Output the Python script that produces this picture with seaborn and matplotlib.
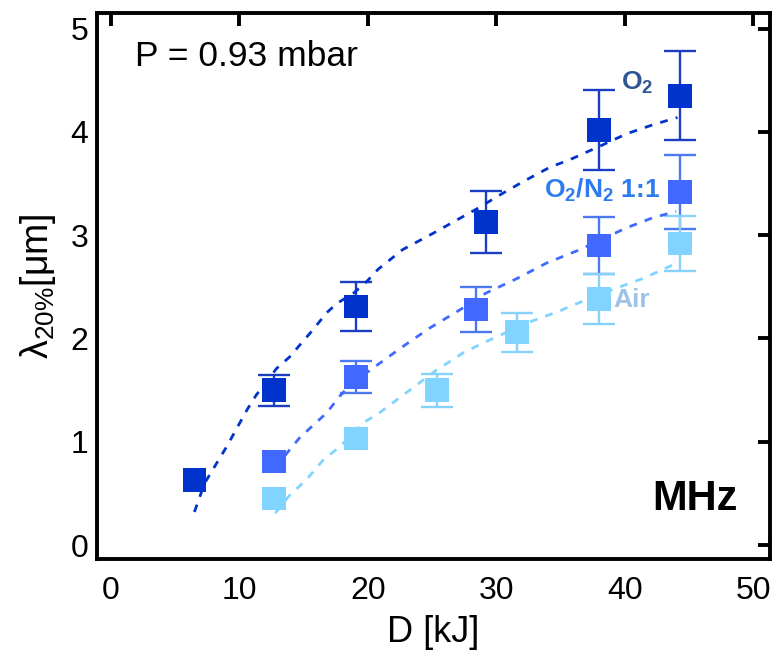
import numpy as np
import pandas as pd
import matplotlib
matplotlib.use("Agg")
import matplotlib.pyplot as plt
import seaborn as sns

# ---- data ----
o2_x = [6.5, 12.7, 19.1, 29.2, 38.0, 44.3]
o2_y = [0.63, 1.50, 2.31, 3.13, 4.02, 4.35]
o2_err = [0.0, 0.15, 0.24, 0.30, 0.39, 0.43]

mix_x = [12.7, 19.1, 28.4, 38.0, 44.3]
mix_y = [0.81, 1.63, 2.28, 2.90, 3.42]
mix_err = [0.0, 0.155, 0.22, 0.28, 0.36]

air_x = [12.7, 19.1, 25.4, 31.6, 38.0, 44.3]
air_y = [0.45, 1.03, 1.50, 2.06, 2.38, 2.92]
air_err = [0.0, 0.0, 0.16, 0.19, 0.24, 0.27]

o2_fit_x = [6.5, 7.3, 9.0, 10.6, 11.3, 12.9, 13.9, 15.7, 16.8, 17.6, 18.9, 19.9, 20.8,
            22.7, 25.1, 27.4, 28.7, 30.0, 32.1, 34.2, 35.7, 38.2, 40.1, 42.2, 44.1]
o2_fit_y = [0.32, 0.60, 0.95, 1.31, 1.45, 1.71, 1.82, 2.08, 2.25, 2.34, 2.44, 2.55, 2.67,
            2.86, 3.02, 3.18, 3.27, 3.37, 3.52, 3.66, 3.73, 3.87, 3.98, 4.07, 4.14]

mix_fit_x = [12.8, 13.7, 14.7, 16.8, 17.8, 18.8, 20.7, 22.7, 24.8, 27.2, 29.2, 31.6,
             33.9, 35.5, 36.5, 40.1, 42.2, 44.0]
mix_fit_y = [0.74, 0.89, 1.04, 1.28, 1.44, 1.57, 1.74, 1.92, 2.10, 2.28, 2.44, 2.58,
             2.73, 2.81, 2.86, 3.07, 3.17, 3.23]

air_fit_x = [12.8, 13.9, 15.2, 16.5, 17.8, 19.6, 20.9, 25.3, 27.4, 29.2, 32.6, 35.0,
             35.7, 39.4, 41.4, 43.7]
air_fit_y = [0.31, 0.48, 0.63, 0.82, 0.95, 1.18, 1.28, 1.69, 1.86, 1.97, 2.16, 2.27,
             2.31, 2.49, 2.58, 2.71]

series = ["O2", "O2/N2 1:1", "Air"]
marker_colors = ["#0033CC", "#4169FF", "#80D4FF"]
err_colors = ["#1A3DC4", "#4C78F2", "#86D2FA"]
label_texts = [r"O$_\mathbf{2}$", r"O$_\mathbf{2}$/N$_\mathbf{2}$ 1:1", "Air"]
label_colors = ["#2F5597", "#2E7BF0", "#9DC3E6"]
label_pos = [(39.7, 4.47), (33.7, 3.43), (39.1, 2.37)]

pts = pd.concat([
    pd.DataFrame({"D": o2_x, "lam": o2_y, "err": o2_err, "gas": series[0]}),
    pd.DataFrame({"D": mix_x, "lam": mix_y, "err": mix_err, "gas": series[1]}),
    pd.DataFrame({"D": air_x, "lam": air_y, "err": air_err, "gas": series[2]}),
], ignore_index=True)
fits = pd.concat([
    pd.DataFrame({"D": o2_fit_x, "lam": o2_fit_y, "gas": series[0]}),
    pd.DataFrame({"D": mix_fit_x, "lam": mix_fit_y, "gas": series[1]}),
    pd.DataFrame({"D": air_fit_x, "lam": air_fit_y, "gas": series[2]}),
], ignore_index=True)

sns.set_theme(style="white")
plt.rcParams["font.family"] = ["Liberation Sans", "DejaVu Sans"]
plt.rcParams["mathtext.fontset"] = "custom"
plt.rcParams["mathtext.rm"] = "Liberation Sans"
plt.rcParams["mathtext.it"] = "Liberation Sans:italic"
plt.rcParams["mathtext.bf"] = "Liberation Sans:bold"
plt.rcParams["axes.labelcolor"] = "black"
plt.rcParams["text.color"] = "black"

fig = plt.figure(figsize=(7.77, 6.58), dpi=100)
ax = fig.add_axes([0.1245, 0.1505, 0.8665, 0.8295])

pal = dict(zip(series, marker_colors))
epal = dict(zip(series, err_colors))

for g in series:
    d = pts[(pts.gas == g) & (pts.err > 0)]
    ax.errorbar(d.D, d.lam, yerr=d.err, fmt="none", ecolor=epal[g], elinewidth=1.7,
                capsize=11.5, capthick=1.7, zorder=2)

sns.scatterplot(data=pts, x="D", y="lam", hue="gas", palette=pal, marker="s",
                s=290, linewidth=0, legend=False, ax=ax, zorder=3)

for g in series:
    d = fits[fits.gas == g]
    sns.lineplot(data=d, x="D", y="lam", color=pal[g], lw=2.0, ax=ax,
                 linestyle=(0, (2.8, 3.0)), legend=False, zorder=4, sort=False)

for txt, col, (px, py) in zip(label_texts, label_colors, label_pos):
    ax.text(px, py, txt, color=col, fontsize=19, fontweight="bold",
            ha="left", va="center")

ax.text(1.85, 4.73, "P = 0.93 mbar", fontsize=25.5, ha="left", va="center", color="black")
ax.text(48.8, 0.45, "MHz", fontsize=30, fontweight="bold", ha="right", va="center",
        color="black")

ax.set_xlim(-1.1, 51.3)
ax.set_ylim(-0.135, 5.15)
ax.set_xticks([0, 10, 20, 30, 40, 50])
ax.set_yticks([0, 1, 2, 3, 4, 5])
ax.set_xlabel("D [kJ]", fontsize=26, labelpad=7)
ax.set_ylabel(r"$\mathrm{\lambda_{20\%}}$[μm]", fontsize=27, labelpad=9)
ax.tick_params(axis="both", which="major", direction="in", length=9, width=2.8,
               labelsize=23, top=True, right=True, colors="black")
ax.tick_params(axis="x", pad=12)
ax.tick_params(axis="y", pad=6)
for sp in ax.spines.values():
    sp.set_linewidth(2.8)
    sp.set_color("black")

fig.savefig("out.png", dpi=100)
